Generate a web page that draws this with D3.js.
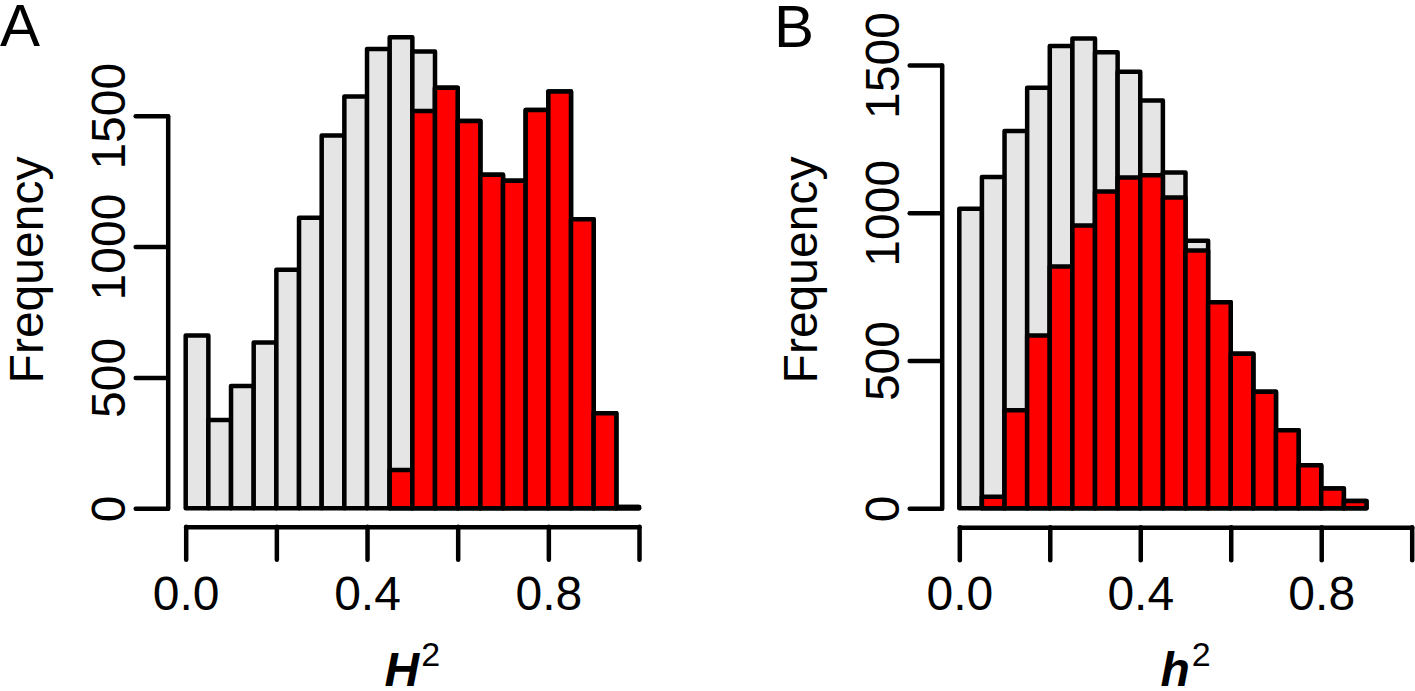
<!DOCTYPE html>
<html>
<head>
<meta charset="utf-8">
<script src="https://cdn.jsdelivr.net/npm/d3@7"></script>
<style>
  html, body { margin: 0; padding: 0; background: #fff; }
  svg { display: block; font-family: "Liberation Sans", Arial, Helvetica, sans-serif; }
</style>
</head>
<body>
<svg id="chart" width="1415" height="691"></svg>
<script>
// ---------------- data ----------------
const binStartA = [0.00,0.05,0.10,0.15,0.20,0.25,0.30,0.35,0.40,0.45,0.50,0.55,0.60,0.65,0.70,0.75,0.80,0.85,0.90,0.95];
const allA      = [660, 337, 467, 633, 911, 1110, 1424, 1573, 1755, 1800, 1745, 1607, 1480, 1274, 1251, 1522, 1592, 1104, 363, 5];
const selA      = [0, 0, 0, 0, 0, 0, 0, 0, 0, 146, 1518, 1607, 1480, 1274, 1251, 1522, 1592, 1104, 363, 5];

const binStartB = [0.00,0.05,0.10,0.15,0.20,0.25,0.30,0.35,0.40,0.45,0.50,0.55,0.60,0.65,0.70,0.75,0.80,0.85];
const allB      = [1014, 1121, 1277, 1423, 1564, 1590, 1543, 1477, 1380, 1136, 905, 697, 523, 394, 264, 146, 67, 25];
const selB      = [0, 39, 332, 585, 818, 957, 1072, 1119, 1127, 1052, 872, 697, 523, 394, 264, 146, 67, 25];

const binWidth = 0.05;
const xTickValues = [0.0, 0.2, 0.4, 0.6, 0.8, 1.0];
const xTickLabels = ["0.0", "", "0.4", "", "0.8", ""];
const yTickValues = [0, 500, 1000, 1500];
const yTickLabels = ["0", "500", "1000", "1500"];
const panelLetters = ["A", "B"];
const yTitle = "Frequency";
const xTitles = ["H", "h"];
const xTitleSup = "2";

// ---------------- layout ----------------
const svg = d3.select("#chart");
const FS = 48;
const SW = 4.5;
const panels = [
  { letter: panelLetters[0], starts: binStartA, all: allA, sel: selA, xTitle: xTitles[0],
    xr: [185.7, 639], yr: [508.3, 115.7], yAxisX: 167.7, xAxisY: 526.7, letterX: 0, letterY: 46 },
  { letter: panelLetters[1], starts: binStartB, all: allB, sel: selB, xTitle: xTitles[1],
    xr: [959.3, 1411.7], yr: [508.3, 65], yAxisX: 941.7, xAxisY: 527.3, letterX: 774, letterY: 47 }
];

panels.forEach(p => {
  const g = svg.append("g");
  const x = d3.scaleLinear().domain([0, 1]).range(p.xr);
  const y = d3.scaleLinear().domain([0, 1500]).range(p.yr);

  // grey (all) bars
  g.append("g").selectAll("rect").data(p.starts.map((s, i) => ({ s, v: p.all[i] })))
    .join("rect")
    .attr("x", d => x(d.s)).attr("width", d => x(d.s + binWidth) - x(d.s))
    .attr("y", d => y(d.v)).attr("height", d => y(0) - y(d.v))
    .attr("fill", "#e5e5e5").attr("stroke", "#000").attr("stroke-width", SW)
    .attr("stroke-linejoin", "round");

  // red (selected) bars
  g.append("g").selectAll("rect").data(p.starts.map((s, i) => ({ s, v: p.sel[i] })))
    .join("rect")
    .attr("x", d => x(d.s)).attr("width", d => x(d.s + binWidth) - x(d.s))
    .attr("y", d => y(d.v)).attr("height", d => y(0) - y(d.v))
    .attr("fill", "#ff0000").attr("stroke", "#000").attr("stroke-width", SW)
    .attr("stroke-linejoin", "round");

  // y axis
  const ya = g.append("g").attr("transform", `translate(${p.yAxisX},0)`)
    .call(d3.axisLeft(y).tickValues(yTickValues).tickFormat((d, i) => yTickLabels[i])
      .tickSizeInner(32).tickSizeOuter(0));
  ya.selectAll("path, line").attr("stroke", "#000").attr("stroke-width", SW).attr("stroke-linecap", "round");
  ya.selectAll(".tick text")
    .attr("transform", "rotate(-90)")
    .attr("x", 0).attr("y", -42.7).attr("dy", 0)
    .attr("text-anchor", "middle")
    .attr("font-size", FS).attr("font-family", "Liberation Sans, Arial, sans-serif").attr("fill", "#000");

  // x axis
  const xa = g.append("g").attr("transform", `translate(0,${p.xAxisY})`)
    .call(d3.axisBottom(x).tickValues(xTickValues).tickFormat((d, i) => xTickLabels[i])
      .tickSizeInner(33).tickSizeOuter(0));
  xa.selectAll("path, line").attr("stroke", "#000").attr("stroke-width", SW).attr("stroke-linecap", "round");
  xa.selectAll(".tick text")
    .attr("y", 610 - p.xAxisY).attr("dy", 0)
    .attr("font-size", FS).attr("font-family", "Liberation Sans, Arial, sans-serif").attr("fill", "#000");

  // y title
  g.append("text")
    .attr("transform", `translate(${p.yAxisX - 125},270) rotate(-90)`)
    .attr("text-anchor", "middle")
    .attr("font-size", FS)
    .text(yTitle);

  // x title
  const xt = g.append("text")
    .attr("x", x(0.5)).attr("y", 686)
    .attr("text-anchor", "middle")
    .attr("font-size", FS);
  xt.append("tspan").attr("font-weight", "bold").attr("font-style", "italic").text(p.xTitle);
  xt.append("tspan").attr("font-size", 34).attr("dy", -20).attr("dx", 2).text(xTitleSup);

  // panel letter
  g.append("text")
    .attr("x", p.letterX).attr("y", p.letterY)
    .attr("font-size", 60)
    .text(p.letter);
});
</script>
</body>
</html>
